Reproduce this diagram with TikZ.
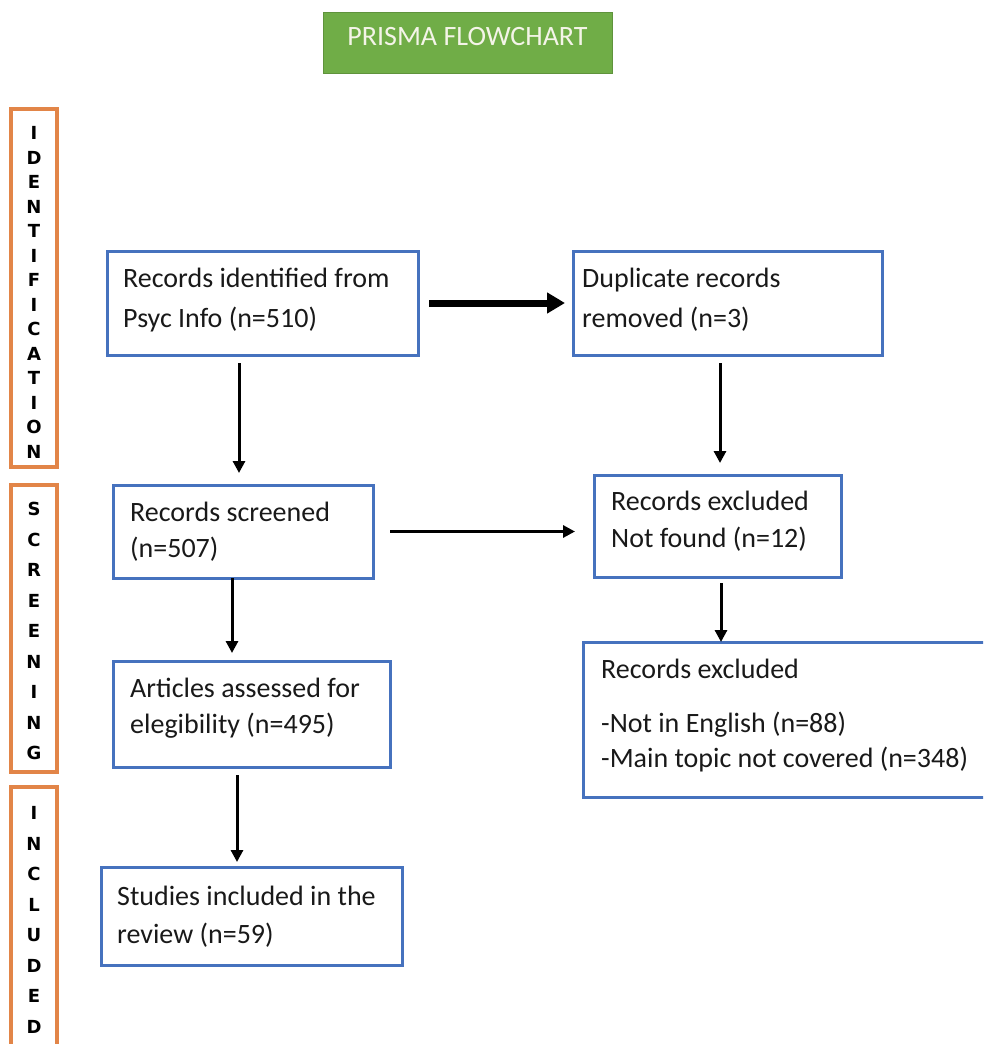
\documentclass[tikz,border=0pt]{standalone}
\usepackage{fontspec}
\setmainfont{Carlito}
\newfontfamily\sidefont{DejaVu Sans}
\usetikzlibrary{arrows.meta,calc}
\definecolor{boxblue}{RGB}{70,114,190}
\definecolor{sideorange}{RGB}{226,133,72}
\definecolor{titlegreen}{RGB}{112,173,71}
\definecolor{titletext}{RGB}{244,244,232}
\tikzset{
  flowbox/.style={draw=boxblue, line width=3pt, rectangle, inner sep=0pt, outer sep=0pt},
  sidebox/.style={draw=sideorange, line width=3.5pt, rectangle, inner sep=0pt, outer sep=0pt, minimum width=46pt},
  sidetext/.style={font=\sidefont\bfseries\fontsize{18}{#1}\selectfont, align=center, inner sep=0pt},
  txt/.style={font=\fontsize{28}{34}\selectfont, inner sep=0pt, anchor=base west, text=black!90},
  thinarrow/.style={line width=3pt, -{Triangle[length=12pt,width=12pt]}},
  thickarrow/.style={line width=7pt, -{Triangle[length=18pt,width=20pt]}}
}
\begin{document}
\begin{tikzpicture}[x=1pt,y=-1pt]
\useasboundingbox (0,0) rectangle (983,1044);
\clip (0,0) rectangle (983,1044);
% title
\node[fill=titlegreen, draw=titlegreen!85!black, line width=0.6pt, minimum width=289pt, minimum height=61pt, inner sep=0pt] (title) at (467.5,42.5) {};
\node[font=\fontsize{28}{34}\selectfont, text=titletext, inner sep=0pt, anchor=base] (titletxt) at (467.5,45) {PRISMA FLOWCHART};
% side phase boxes
\node[sidebox, minimum height=358pt] (sid) at (34,288) {};
\node[sidetext=24.5] (sidt) at (34,292.5) {I\\D\\E\\N\\T\\I\\F\\I\\C\\A\\T\\I\\O\\N};
\node[sidebox, minimum height=287pt] (sscr) at (34,628.5) {};
\node[sidetext=30.5] (sscrt) at (34,631) {S\\C\\R\\E\\E\\N\\I\\N\\G};
\node[sidebox, minimum height=273pt] (sinc) at (34,923.5) {};
\node[sidetext=30.5] (sinct) at (34,920) {I\\N\\C\\L\\U\\D\\E\\D};
% flow boxes
\node[flowbox, minimum width=311pt, minimum height=104pt] (b1) at (262.5,303) {};
\node[flowbox, minimum width=309pt, minimum height=104pt] (b2) at (727.5,303) {};
\node[flowbox, minimum width=260pt, minimum height=93pt] (b3) at (243,531.5) {};
\node[flowbox, minimum width=247pt, minimum height=102pt] (b4) at (717.5,526) {};
\node[flowbox, minimum width=277pt, minimum height=106pt] (b5) at (251.5,714) {};
\node[flowbox, minimum width=417pt, minimum height=155pt] (b6) at (791.5,719.5) {};
\node[flowbox, minimum width=301pt, minimum height=98pt] (b7) at (251.5,916) {};
% texts
\node[txt] (t1a) at (123,287) {Records identified from};
\node[txt] (t1b) at (123,327) {Psyc Info (n=510)};
\node[txt] (t2a) at (582,287) {Duplicate records};
\node[txt] (t2b) at (582,327) {removed (n=3)};
\node[txt] (t3a) at (130,521) {Records screened};
\node[txt] (t3b) at (130,557) {(n=507)};
\node[txt] (t4a) at (611,510) {Records excluded};
\node[txt] (t4b) at (611,547) {Not found (n=12)};
\node[txt] (t5a) at (130,697) {Articles assessed for};
\node[txt] (t5b) at (130,733) {elegibility (n=495)};
\node[txt] (t6a) at (601,678) {Records excluded};
\node[txt] (t6b) at (601,732) {-Not in English (n=88)};
\node[txt] (t6c) at (601,767) {-Main topic not covered (n=348)};
\node[txt] (t7a) at (117,905) {Studies included in the};
\node[txt] (t7b) at (117,943) {review (n=59)};
% connectors
\draw[thickarrow, shorten <=11pt, shorten >=8pt] (b1.east) -- (b1.east -| b2.west);
\draw[thinarrow, shorten <=8pt, shorten >=12pt] ([xshift=-4pt]b3.north |- b1.south) -- ([xshift=-4pt]b3.north);
\draw[thinarrow, shorten <=8pt, shorten >=12pt] ([xshift=2.5pt]b4.north |- b2.south) -- ([xshift=2.5pt]b4.north);
\draw[thinarrow, shorten <=17pt, shorten >=19pt] (b3.east) -- (b3.east -| b4.west);
\draw[thinarrow, shorten >=8pt] ([xshift=-11pt]b3.south) -- ([xshift=-11pt]b3.south |- b5.north);
\draw[thinarrow, shorten <=6pt] ([xshift=3.5pt]b4.south) -- ([xshift=3.5pt]b4.south |- b6.north);
\draw[thinarrow, shorten <=8pt, shorten >=5pt] ([xshift=-14.5pt]b5.south) -- ([xshift=-14.5pt]b5.south |- b7.north);
\end{tikzpicture}
\end{document}
